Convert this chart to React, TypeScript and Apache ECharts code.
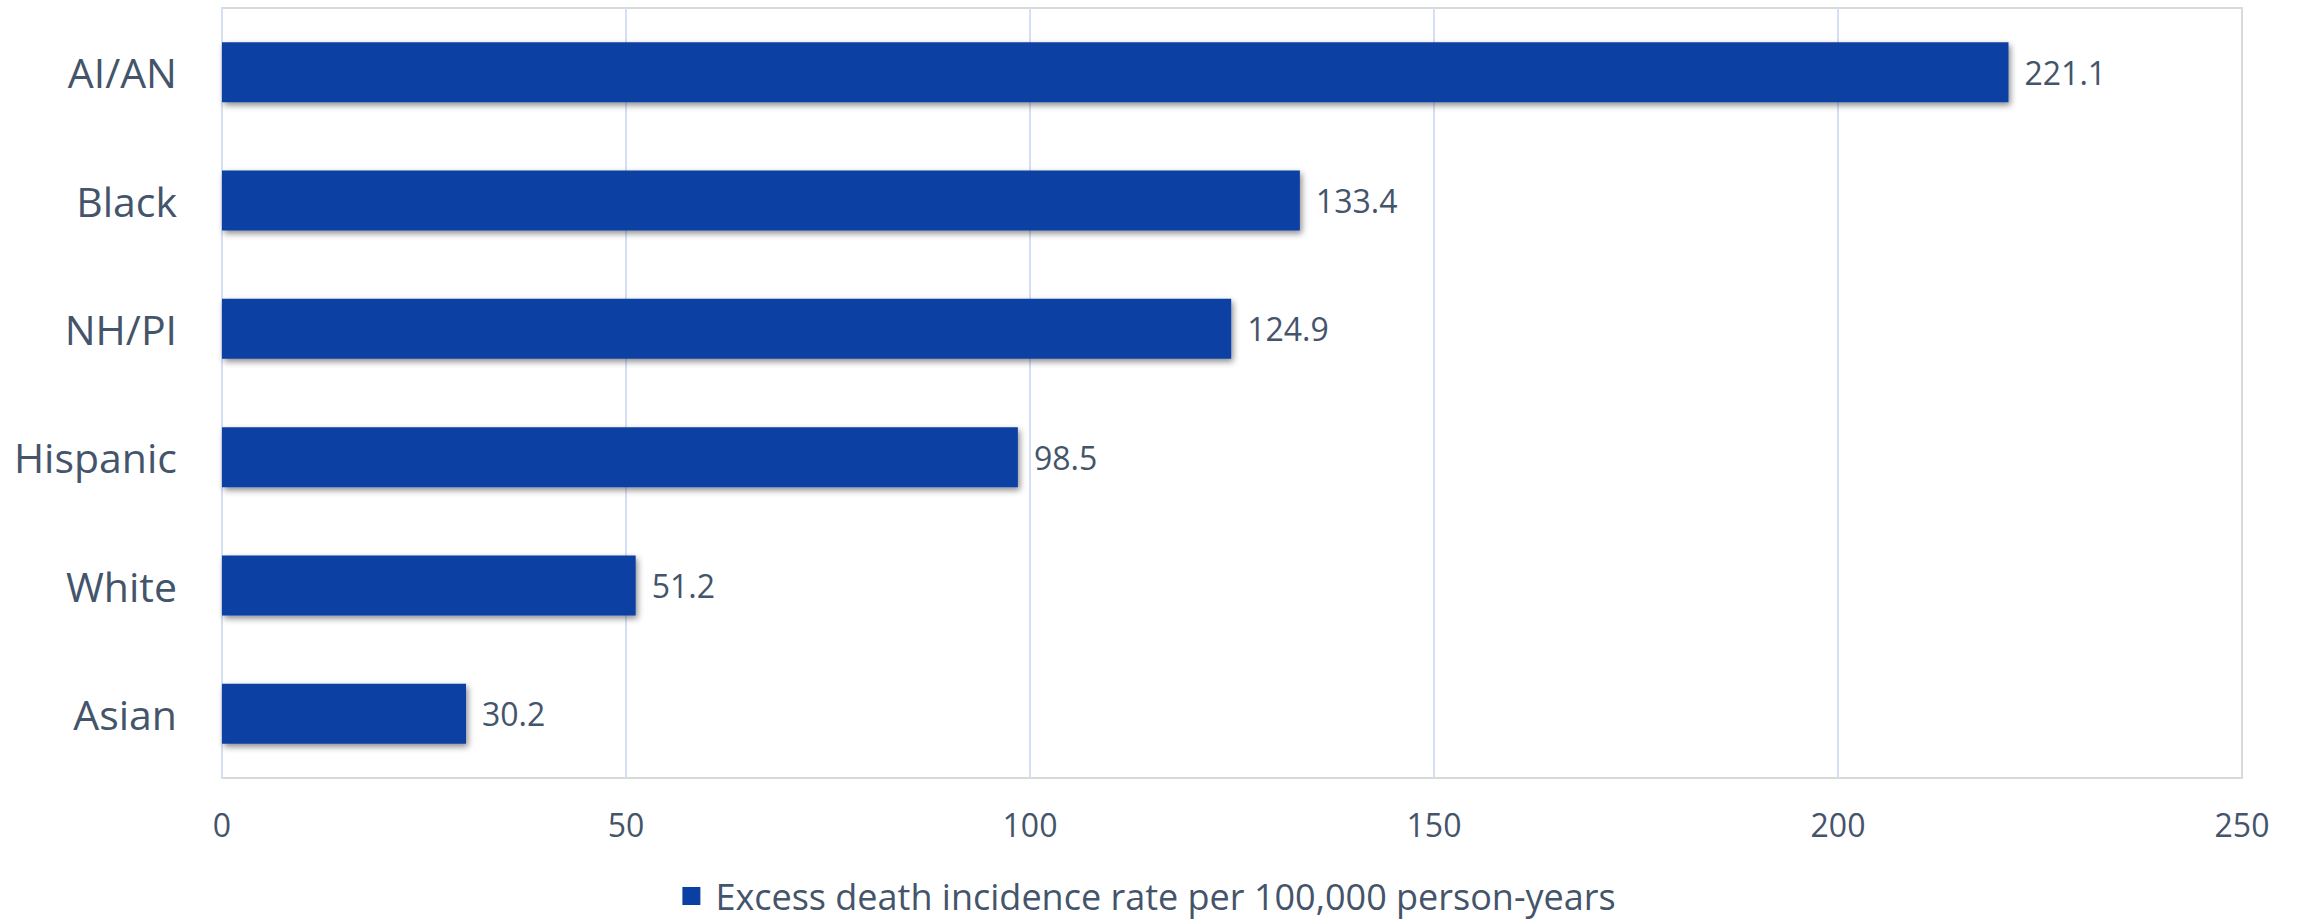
import React, { useEffect, useRef } from "react";
import * as echarts from "echarts";

const categories = ["AI/AN", "Black", "NH/PI", "Hispanic", "White", "Asian"];
const rates = [221.1, 133.4, 124.9, 98.5, 51.2, 30.2];
const seriesName = "Excess death incidence rate per 100,000 person-years";
const xMin = 0;
const xMax = 250;
const xInterval = 50;

const TEXT = "#44546A";
const FONT = "'Open Sans', sans-serif";

export default function App() {
  const ref = useRef<HTMLDivElement>(null);
  useEffect(() => {
    if (!ref.current) return;
    const chart = echarts.init(ref.current, undefined, { renderer: "svg" });
    chart.setOption({
      animation: false,
      backgroundColor: "#ffffff",
      textStyle: { fontFamily: FONT },
      grid: {
        left: 222,
        right: 56,
        top: 8,
        bottom: 142,
        show: true,
        borderColor: "#d9d9d9",
        borderWidth: 2,
        backgroundColor: "transparent",
      },
      legend: {
        left: "center",
        top: 876,
        itemWidth: 18,
        itemHeight: 18,
        itemGap: 16,
        icon: "rect",
        padding: 0,
        textStyle: {
          fontSize: 36,
          color: TEXT,
          fontFamily: FONT,
          lineHeight: 40,
          padding: [0, 0, 0, 10],
        },
        data: [seriesName],
      },
      xAxis: {
        type: "value",
        min: xMin,
        max: xMax,
        interval: xInterval,
        axisLine: { show: false },
        axisTick: { show: false },
        axisLabel: { fontSize: 32, color: TEXT, fontFamily: FONT, margin: 30 },
        splitLine: {
          show: true,
          showMinLine: true,
          showMaxLine: false,
          lineStyle: { color: "#d6e0f5", width: 2 },
        },
      },
      yAxis: {
        type: "category",
        inverse: true,
        data: categories,
        axisLine: { show: false },
        axisTick: { show: false },
        axisLabel: { fontSize: 41, color: TEXT, fontFamily: FONT, margin: 45 },
        splitLine: { show: false },
      },
      series: [
        {
          name: seriesName,
          type: "bar",
          data: rates,
          barWidth: 60,
          itemStyle: {
            color: "#0c3fa3",
            shadowColor: "rgba(0,0,0,0.45)",
            shadowBlur: 6,
            shadowOffsetX: 2,
            shadowOffsetY: 3,
          },
          label: {
            show: true,
            position: "right",
            distance: 16,
            fontSize: 32,
            color: TEXT,
            fontFamily: FONT,
            formatter: (p: any) => Number(p.value).toFixed(1),
          },
        },
      ],
    });
    return () => chart.dispose();
  }, []);
  return (
    <div
      ref={ref}
      style={{ position: "fixed", left: 0, top: 0, width: 2298, height: 920 }}
    />
  );
}
